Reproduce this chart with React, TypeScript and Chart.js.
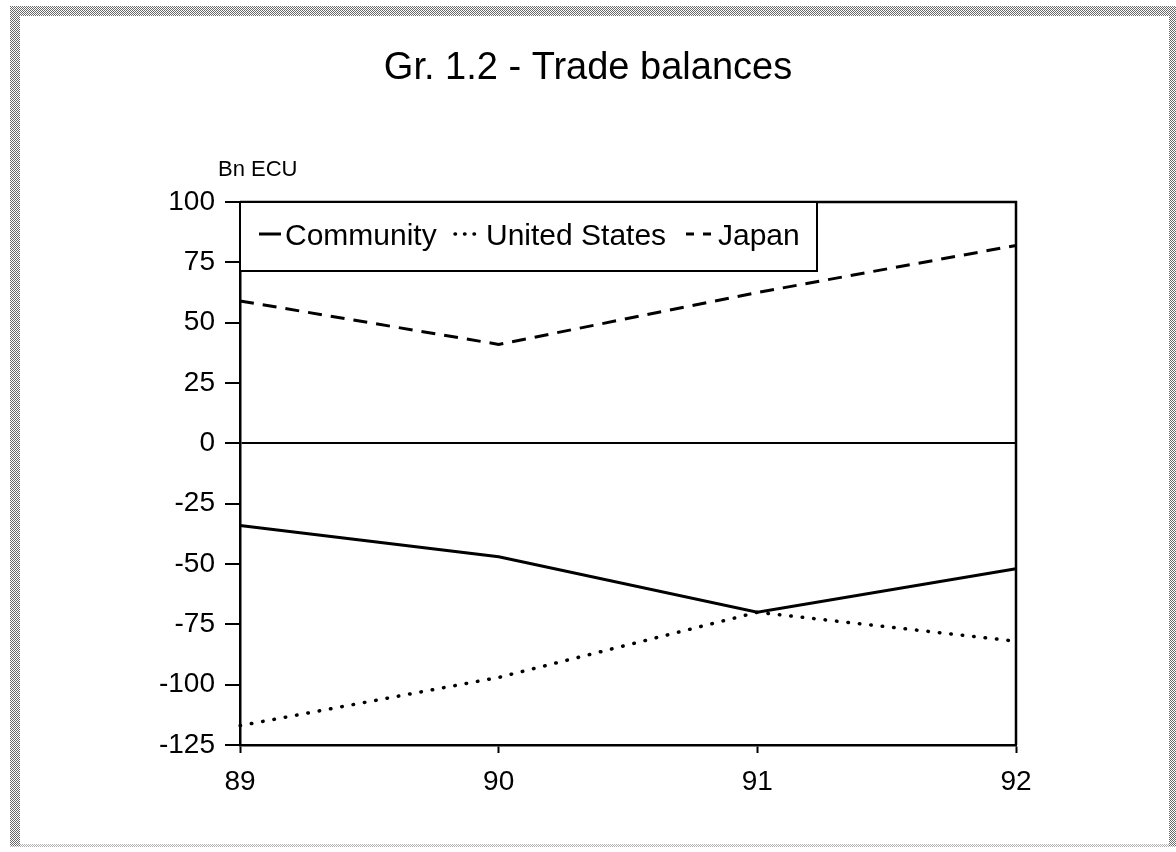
import React, { useEffect, useRef } from "react";
import { Chart, registerables } from "chart.js";

Chart.register(...registerables);

const years = ["89", "90", "91", "92"];
const community = [-34, -47, -70, -52];
const unitedStates = [-117, -97, -70, -82];
const japan = [59, 41, 62.5, 82];
const yMin = -125;
const yMax = 100;
const yStep = 25;

const titleText = "Gr. 1.2 - Trade balances";
const unitText = "Bn ECU";

const SANS = "'Liberation Sans', Arial, Helvetica, sans-serif";

// legend layout (sample start, sample end, text start)
const legendSlots = [
  [259, 281, 285],
  [455, 480, 486],
  [686, 711, 718],
];

const framePlugin = {
  id: "frame",
  beforeDraw(chart: any) {
    const ctx = chart.ctx;
    ctx.save();
    ctx.fillStyle = "#ffffff";
    ctx.fillRect(0, 0, chart.width, chart.height);
    const tile = document.createElement("canvas");
    tile.width = 2;
    tile.height = 2;
    const t = tile.getContext("2d")!;
    t.fillStyle = "#ffffff";
    t.fillRect(0, 0, 2, 2);
    t.fillStyle = "#6a6a6a";
    t.fillRect(0, 0, 1, 1);
    t.fillRect(1, 1, 1, 1);
    const pat = ctx.createPattern(tile, "repeat");
    ctx.fillStyle = pat;
    ctx.fillRect(10, 6, 1166, 10);
    ctx.fillRect(10, 6, 10, 840);
    ctx.fillRect(1169, 6, 7, 840);
    ctx.globalAlpha = 0.5;
    ctx.fillRect(10, 844, 1166, 3);
    ctx.restore();
  },
  afterDraw(chart: any) {
    const ctx = chart.ctx;
    ctx.save();
    ctx.fillStyle = "#000";
    ctx.textAlign = "center";
    ctx.textBaseline = "middle";
    ctx.font = `38px ${SANS}`;
    ctx.fillText(titleText, 588, 69);
    ctx.textAlign = "left";
    ctx.font = `22px ${SANS}`;
    ctx.fillText(unitText, 218, 170);
    ctx.restore();
  },
};

const boxPlugin = {
  id: "plotBox",
  afterDatasetsDraw(chart: any) {
    const ctx = chart.ctx;
    const a = chart.chartArea;
    ctx.save();
    ctx.strokeStyle = "#000";
    ctx.lineWidth = 2.5;
    ctx.beginPath();
    ctx.moveTo(a.left, a.top);
    ctx.lineTo(a.right, a.top);
    ctx.lineTo(a.right, a.bottom);
    ctx.stroke();

    // legend box
    const boxL = a.left;
    const boxT = a.top;
    const boxR = 817;
    const boxB = 271;
    ctx.fillStyle = "#fff";
    ctx.fillRect(boxL, boxT, boxR - boxL, boxB - boxT);
    ctx.lineWidth = 2;
    ctx.strokeRect(boxL, boxT, boxR - boxL, boxB - boxT);

    ctx.font = `30px ${SANS}`;
    ctx.textBaseline = "middle";
    ctx.fillStyle = "#000";
    const textY = 237;
    const lineY = 234;
    chart.data.datasets.forEach((ds: any, i: number) => {
      const [s0, s1, tx] = legendSlots[i];
      ctx.save();
      ctx.lineWidth = ds.borderWidth;
      ctx.lineCap = ds.borderCapStyle || "butt";
      ctx.setLineDash(ds.legendDash || []);
      ctx.beginPath();
      ctx.moveTo(s0, lineY);
      ctx.lineTo(s1, lineY);
      ctx.stroke();
      ctx.restore();
      ctx.fillText(ds.label, tx, textY);
    });
    ctx.restore();
  },
};

export default function App() {
  const ref = useRef<HTMLCanvasElement | null>(null);

  useEffect(() => {
    if (!ref.current) return;
    const chart = new Chart(ref.current, {
      type: "line",
      data: {
        labels: years,
        datasets: [
          {
            label: "Community",
            data: community,
            borderColor: "#000",
            borderWidth: 3,
            pointRadius: 0,
            tension: 0,
            fill: false,
            legendDash: [],
          } as any,
          {
            label: "United States",
            data: unitedStates,
            borderColor: "#000",
            borderWidth: 3.5,
            borderDash: [0.5, 11],
            borderCapStyle: "round",
            pointRadius: 0,
            tension: 0,
            fill: false,
            legendDash: [0.5, 9],
          } as any,
          {
            label: "Japan",
            data: japan,
            borderColor: "#000",
            borderWidth: 3,
            borderDash: [14, 9],
            pointRadius: 0,
            tension: 0,
            fill: false,
            legendDash: [8, 9],
          } as any,
        ],
      },
      options: {
        responsive: false,
        animation: false,
        devicePixelRatio: 1,
        layout: { padding: { left: 150, top: 202, right: 160, bottom: 50 } },
        plugins: {
          legend: { display: false },
          title: { display: false },
          tooltip: { enabled: false },
        },
        scales: {
          x: {
            type: "category",
            offset: false,
            afterFit: (s: any) => {
              s.height = 57;
            },
            grid: {
              drawOnChartArea: false,
              drawTicks: true,
              tickLength: 8,
              tickWidth: 2,
              tickColor: "#000",
            },
            border: { display: true, color: "#000", width: 2.5 },
            ticks: {
              color: "#000",
              font: { family: SANS, size: 28 },
              padding: 12,
              maxRotation: 0,
            },
          },
          y: {
            min: yMin,
            max: yMax,
            afterFit: (s: any) => {
              s.width = 90;
            },
            grid: {
              drawOnChartArea: true,
              color: (c: any) => (c.tick && c.tick.value === 0 ? "#000" : "rgba(0,0,0,0)"),
              lineWidth: (c: any) => (c.tick && c.tick.value === 0 ? 2 : 0),
              tickLength: 15,
              tickWidth: 2,
              tickColor: "#000",
            },
            border: { display: true, color: "#000", width: 2.5 },
            ticks: {
              stepSize: yStep,
              color: "#000",
              font: { family: SANS, size: 28 },
              padding: 10,
            },
          },
        },
      } as any,
      plugins: [framePlugin, boxPlugin],
    });
    return () => chart.destroy();
  }, []);

  return (
    <div style={{ position: "fixed", left: 0, top: 0, width: 1176, height: 852, background: "#fff" }}>
      <canvas ref={ref} width={1176} height={852} style={{ display: "block" }} />
    </div>
  );
}
